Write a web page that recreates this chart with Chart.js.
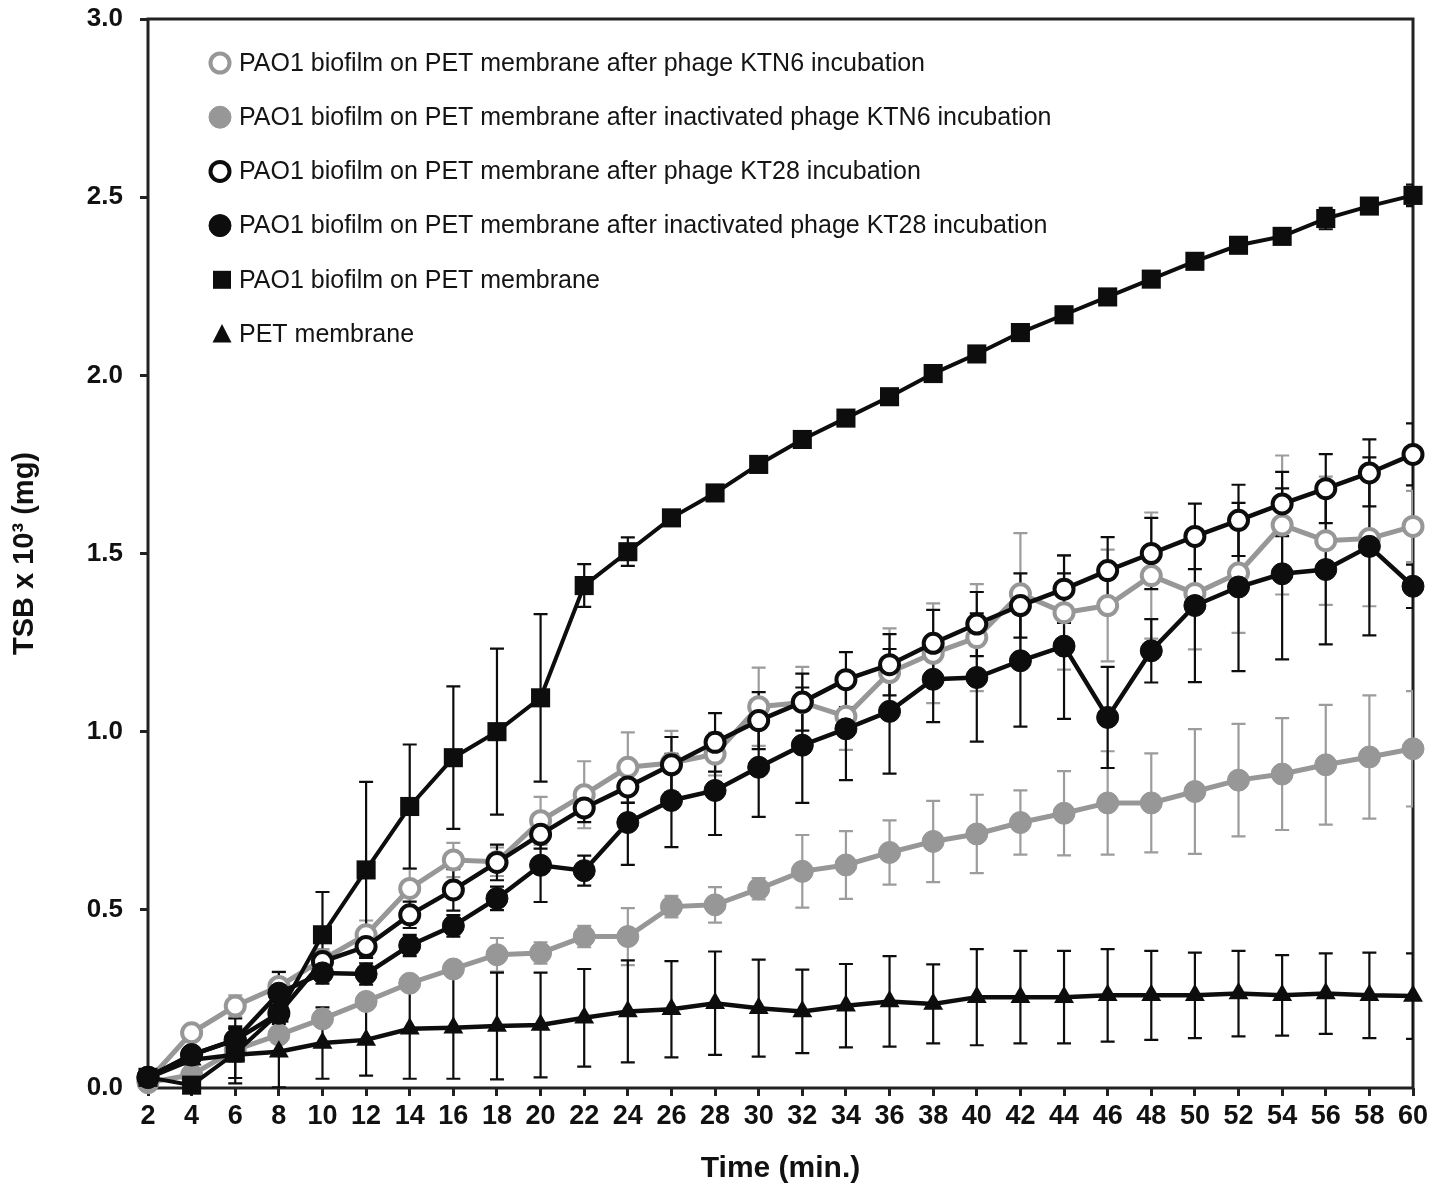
<!DOCTYPE html>
<html>
<head>
<meta charset="utf-8">
<script src="https://cdn.jsdelivr.net/npm/chart.js@4.4.1/dist/chart.umd.min.js"></script>
<style>
  html, body { margin: 0; padding: 0; background: #fff; }
  canvas { display: block; }
</style>
</head>
<body>
<canvas id="tsbChart" width="1450" height="1185"></canvas>
<script>
// Time points (min.)
const times = [2, 4, 6, 8, 10, 12, 14, 16, 18, 20, 22, 24, 26, 28, 30, 32, 34, 36, 38, 40, 42, 44, 46, 48, 50, 52, 54, 56, 58, 60];

// Series means (TSB x 10^3, mg)
const ktn6 = [0.02, 0.155, 0.23, 0.285, 0.36, 0.43, 0.56, 0.64, 0.635, 0.75, 0.823, 0.90, 0.912, 0.937, 1.07, 1.082, 1.043, 1.166, 1.22, 1.264, 1.387, 1.334, 1.354, 1.438, 1.388, 1.445, 1.58, 1.536, 1.542, 1.576];
const inKtn6 = [0.015, 0.037, 0.107, 0.149, 0.194, 0.243, 0.294, 0.334, 0.374, 0.379, 0.425, 0.425, 0.509, 0.514, 0.559, 0.608, 0.626, 0.661, 0.692, 0.713, 0.745, 0.771, 0.80, 0.80, 0.832, 0.864, 0.881, 0.907, 0.929, 0.952];
const kt28 = [0.03, 0.093, 0.135, 0.21, 0.355, 0.397, 0.486, 0.556, 0.633, 0.712, 0.786, 0.845, 0.907, 0.97, 1.031, 1.083, 1.146, 1.188, 1.248, 1.302, 1.354, 1.40, 1.452, 1.50, 1.548, 1.593, 1.639, 1.682, 1.726, 1.778];
const inKt28 = [0.03, 0.093, 0.135, 0.266, 0.323, 0.32, 0.40, 0.455, 0.532, 0.625, 0.61, 0.745, 0.807, 0.835, 0.90, 0.962, 1.008, 1.057, 1.147, 1.152, 1.199, 1.24, 1.04, 1.227, 1.354, 1.406, 1.443, 1.455, 1.52, 1.408];
const biofilm = [0.03, 0.008, 0.098, 0.21, 0.43, 0.612, 0.79, 0.927, 1.0, 1.095, 1.41, 1.505, 1.60, 1.67, 1.75, 1.82, 1.88, 1.94, 2.005, 2.06, 2.12, 2.17, 2.22, 2.27, 2.32, 2.365, 2.39, 2.44, 2.475, 2.505];
const membrane = [0.028, 0.079, 0.093, 0.102, 0.126, 0.135, 0.166, 0.169, 0.174, 0.177, 0.197, 0.215, 0.221, 0.238, 0.224, 0.215, 0.231, 0.243, 0.236, 0.255, 0.255, 0.255, 0.26, 0.26, 0.26, 0.265, 0.26, 0.265, 0.26, 0.258];

// Error bars (+/-)
const ktn6Err = [0.01, 0.02, 0.03, 0.04, 0.03, 0.04, 0.055, 0.048, 0.04, 0.067, 0.094, 0.098, 0.09, 0.06, 0.11, 0.10, 0.094, 0.124, 0.14, 0.15, 0.17, 0.16, 0.157, 0.177, 0.157, 0.168, 0.195, 0.18, 0.19, 0.10];
const inKtn6Err = [0, 0.01, 0.02, 0.02, 0.02, 0.02, 0.02, 0.02, 0.047, 0.03, 0.03, 0.08, 0.03, 0.05, 0.03, 0.102, 0.095, 0.09, 0.114, 0.11, 0.09, 0.118, 0.145, 0.139, 0.175, 0.158, 0.157, 0.168, 0.173, 0.162];
const kt28Err = [0.01, 0.02, 0.06, 0.03, 0.02, 0.03, 0.037, 0.058, 0.05, 0.04, 0.04, 0.045, 0.078, 0.082, 0.08, 0.08, 0.077, 0.086, 0.094, 0.09, 0.09, 0.095, 0.094, 0.10, 0.092, 0.10, 0.09, 0.097, 0.094, 0.087];
const inKt28Err = [0.01, 0.01, 0.03, 0.06, 0.03, 0.03, 0.03, 0.03, 0.033, 0.103, 0.042, 0.119, 0.131, 0.125, 0.139, 0.162, 0.144, 0.175, 0.12, 0.18, 0.185, 0.204, 0.142, 0.089, 0.215, 0.236, 0.24, 0.21, 0.25, 0.061];
const biofilmErr = [0.01, 0.01, 0.07, 0.05, 0.12, 0.247, 0.174, 0.2, 0.233, 0.235, 0.06, 0.04, 0.015, 0.015, 0.015, 0.015, 0.015, 0.015, 0.015, 0.015, 0.015, 0.015, 0.015, 0.015, 0.015, 0.015, 0.015, 0.03, 0.015, 0.03];
const membraneErr = [0, 0.02, 0.08, 0.1, 0.1, 0.1, 0.14, 0.143, 0.15, 0.147, 0.137, 0.143, 0.135, 0.145, 0.136, 0.117, 0.117, 0.127, 0.111, 0.135, 0.13, 0.13, 0.13, 0.125, 0.12, 0.12, 0.113, 0.113, 0.12, 0.12];

// Legend labels and axis ticks
const seriesNames = [
  'PAO1 biofilm on PET membrane after phage KTN6 incubation',
  'PAO1 biofilm on PET membrane after inactivated phage KTN6 incubation',
  'PAO1 biofilm on PET membrane after phage KT28 incubation',
  'PAO1 biofilm on PET membrane after inactivated phage KT28 incubation',
  'PAO1 biofilm on PET membrane',
  'PET membrane'
];
const yTicks = [0, 0.5, 1.0, 1.5, 2.0, 2.5, 3.0];

const GREY = '#979797';
const BLACK = '#0d0d0d';
const AXIS = '#222222';
const FONT = '"Liberation Sans", Arial, sans-serif';

function pts(values) {
  return values.map((v, i) => ({ x: times[i], y: v }));
}

function series(label, values, errs, o) {
  return Object.assign({
    label: label,
    data: pts(values),
    errors: errs,
    clip: false,
    tension: 0,
    fill: false
  }, o);
}

const datasets = [
  series(seriesNames[0], ktn6, ktn6Err, {
    borderColor: GREY, borderWidth: 5, pointStyle: 'circle', pointRadius: 9.5,
    pointBorderWidth: 4, pointBorderColor: GREY, pointBackgroundColor: '#fff', errColor: '#9c9c9c', order: 6
  }),
  series(seriesNames[1], inKtn6, inKtn6Err, {
    borderColor: GREY, borderWidth: 5, pointStyle: 'circle', pointRadius: 11,
    pointBorderWidth: 1, pointBorderColor: GREY, pointBackgroundColor: GREY, errColor: '#9c9c9c', order: 5
  }),
  series(seriesNames[2], kt28, kt28Err, {
    borderColor: BLACK, borderWidth: 4.5, pointStyle: 'circle', pointRadius: 9.5,
    pointBorderWidth: 4, pointBorderColor: BLACK, pointBackgroundColor: '#fff', errColor: BLACK, order: 4
  }),
  series(seriesNames[3], inKt28, inKt28Err, {
    borderColor: BLACK, borderWidth: 4.5, pointStyle: 'circle', pointRadius: 11,
    pointBorderWidth: 1, pointBorderColor: BLACK, pointBackgroundColor: BLACK, errColor: BLACK, order: 3
  }),
  series(seriesNames[4], biofilm, biofilmErr, {
    borderColor: BLACK, borderWidth: 4, pointStyle: 'rect', pointRadius: 13.5,
    pointBorderWidth: 0, pointBorderColor: BLACK, pointBackgroundColor: BLACK, errColor: BLACK, order: 2
  }),
  series(seriesNames[5], membrane, membraneErr, {
    borderColor: BLACK, borderWidth: 4.5, pointStyle: 'triangle', pointRadius: 11.5,
    pointBorderWidth: 0, pointBorderColor: BLACK, pointBackgroundColor: BLACK, errColor: BLACK, order: 1
  })
];

// box around the plot area
const framePlugin = {
  id: 'frame',
  beforeDatasetsDraw(chart) {
    const { ctx, chartArea: a } = chart;
    ctx.save();
    ctx.strokeStyle = AXIS;
    ctx.lineWidth = 3;
    ctx.strokeRect(a.left, a.top, a.right - a.left, a.bottom - a.top);
    ctx.restore();
  }
};

// vertical error bars with caps, clipped to the plot area
const errorBarPlugin = {
  id: 'errorBars',
  beforeDatasetsDraw(chart) {
    const { ctx, chartArea: a, scales: { x, y } } = chart;
    ctx.save();
    ctx.beginPath();
    ctx.rect(a.left, a.top, a.right - a.left, a.bottom - a.top);
    ctx.clip();
    ctx.lineWidth = 2.2;
    chart.data.datasets.forEach(ds => {
      ctx.strokeStyle = ds.errColor;
      ds.data.forEach((p, i) => {
        const e = ds.errors[i];
        if (!e) return;
        const px = x.getPixelForValue(p.x);
        const top = y.getPixelForValue(p.y + e);
        const bot = y.getPixelForValue(p.y - e);
        ctx.beginPath();
        ctx.moveTo(px, top); ctx.lineTo(px, bot);
        ctx.moveTo(px - 7, top); ctx.lineTo(px + 7, top);
        ctx.moveTo(px - 7, bot); ctx.lineTo(px + 7, bot);
        ctx.stroke();
      });
    });
    ctx.restore();
  }
};

function drawMarker(ctx, ds, cx, cy) {
  ctx.save();
  ctx.fillStyle = ds.pointBackgroundColor;
  ctx.strokeStyle = ds.pointBorderColor;
  ctx.lineWidth = ds.pointBorderWidth;
  ctx.beginPath();
  if (ds.pointStyle === 'circle') {
    ctx.arc(cx, cy, ds.pointRadius, 0, Math.PI * 2);
    ctx.fill();
    if (ds.pointBorderWidth) ctx.stroke();
  } else if (ds.pointStyle === 'rect') {
    ctx.fillRect(cx - 9, cy - 9, 18, 18);
  } else {
    ctx.moveTo(cx, cy - 10);
    ctx.lineTo(cx + 9.5, cy + 8.5);
    ctx.lineTo(cx - 9.5, cy + 8.5);
    ctx.closePath();
    ctx.fill();
  }
  ctx.restore();
}

// legend inside the plot, top-left
const legendPlugin = {
  id: 'insideLegend',
  afterDraw(chart) {
    const { ctx, chartArea: a } = chart;
    ctx.save();
    ctx.font = '25px ' + FONT;
    ctx.textBaseline = 'middle';
    chart.data.datasets.forEach((ds, i) => {
      const cy = a.top + 44 + i * 54.2;
      const mx = ds.pointStyle === 'circle' ? a.left + 72 : a.left + 74;
      drawMarker(ctx, ds, mx, cy);
      ctx.fillStyle = '#141414';
      ctx.fillText(ds.label, a.left + 91, cy + 1);
    });
    ctx.restore();
  }
};

const ctx = document.getElementById('tsbChart').getContext('2d');
const tsbChart = new Chart(ctx, {
  type: 'line',
  data: { datasets: datasets },
  options: {
    responsive: false,
    devicePixelRatio: 1,
    animation: false,
    layout: { padding: { top: 19, right: 37, bottom: 0, left: 0 } },
    plugins: {
      legend: { display: false },
      tooltip: { enabled: false }
    },
    scales: {
      x: {
        type: 'linear',
        min: 2,
        max: 60,
        afterFit(scale) {
          scale.height = 97;
          scale.paddingLeft = 0;
          scale.paddingRight = 0;
        },
        border: { display: false },
        grid: { drawOnChartArea: false, drawTicks: true, tickLength: 8, tickWidth: 3, tickColor: AXIS },
        ticks: {
          stepSize: 2,
          autoSkip: false,
          maxRotation: 0,
          padding: 4,
          color: '#111',
          font: { family: FONT, size: 27, weight: 'bold' }
        },
        title: {
          display: true,
          text: 'Time (min.)',
          color: '#111',
          padding: { top: 0, bottom: 1 },
          font: { family: FONT, size: 30, weight: 'bold', lineHeight: 1 }
        }
      },
      y: {
        min: 0,
        max: 3,
        afterFit(scale) {
          scale.width = 148;
          scale.paddingTop = 0;
          scale.paddingBottom = 0;
        },
        afterBuildTicks(scale) { scale.ticks = yTicks.map(v => ({ value: v })); },
        border: { display: false },
        grid: { drawOnChartArea: false, drawTicks: true, tickLength: 8, tickWidth: 3, tickColor: AXIS },
        ticks: {
          padding: 17,
          color: '#111',
          callback: v => Number(v).toFixed(1),
          font: { family: FONT, size: 26, weight: 'bold' }
        },
        title: {
          display: true,
          text: 'TSB x 10³ (mg)',
          color: '#111',
          padding: { top: 10, bottom: 0 },
          font: { family: FONT, size: 29, weight: 'bold', lineHeight: 1 }
        }
      }
    }
  },
  plugins: [framePlugin, errorBarPlugin, legendPlugin]
});
</script>
</body>
</html>
